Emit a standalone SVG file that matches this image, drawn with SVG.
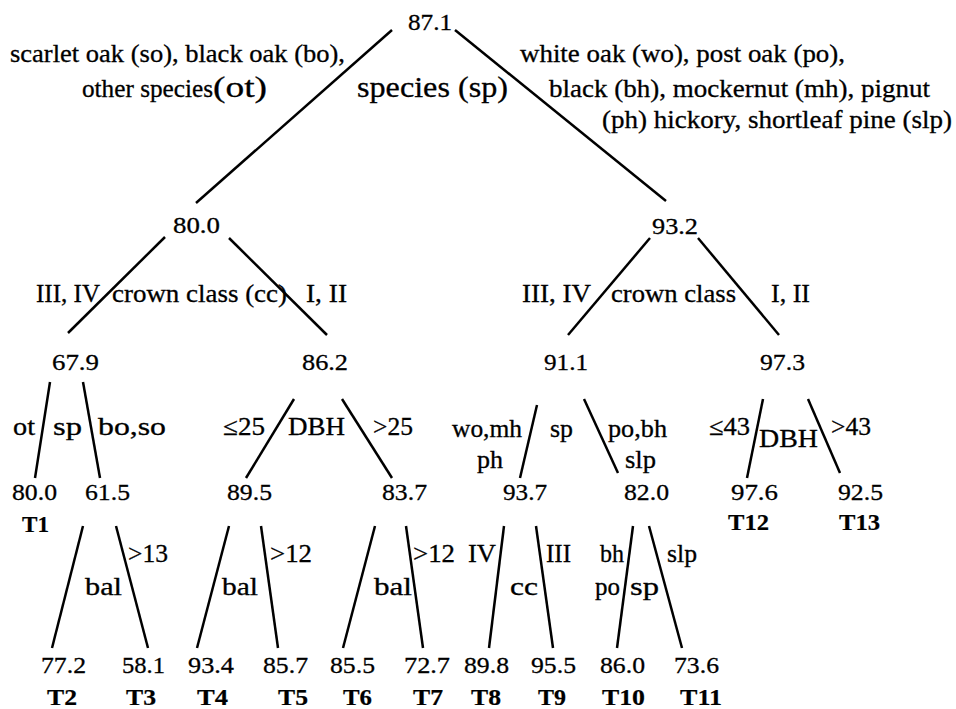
<svg xmlns="http://www.w3.org/2000/svg" width="956" height="709" viewBox="0 0 956 709" font-family="'Liberation Serif', 'Times New Roman', Times, serif">
<style>
text{font-family:'Liberation Serif','Times New Roman',Times,serif;fill:#000;stroke:#000;stroke-width:0.3}
.n{font-size:24px}
.t{font-size:23px;font-weight:bold;stroke-width:0.2}
.l{font-size:25px}
.g{font-size:29px}
#connectors line{stroke:#000;stroke-width:2.5;stroke-linecap:butt}
</style>
<rect width="956" height="709" fill="#fff"/>
<g id="connectors">
<line x1="392" y1="30" x2="196" y2="203"/>
<line x1="455" y1="30" x2="666" y2="201"/>
<line x1="165" y1="237" x2="68" y2="333"/>
<line x1="229" y1="238" x2="327" y2="335"/>
<line x1="650" y1="238" x2="568" y2="335"/>
<line x1="698" y1="238" x2="779" y2="335"/>
<line x1="50" y1="382" x2="35" y2="478"/>
<line x1="83" y1="382" x2="100" y2="478"/>
<line x1="294" y1="399" x2="246" y2="478"/>
<line x1="342" y1="399" x2="392" y2="478"/>
<line x1="537" y1="405" x2="520" y2="478"/>
<line x1="584" y1="399" x2="618" y2="473"/>
<line x1="763" y1="399" x2="747" y2="478"/>
<line x1="808" y1="399" x2="840" y2="473"/>
<line x1="83" y1="526" x2="52" y2="648"/>
<line x1="116" y1="526" x2="148" y2="648"/>
<line x1="229" y1="526" x2="197" y2="648"/>
<line x1="261" y1="526" x2="278" y2="648"/>
<line x1="375" y1="526" x2="343" y2="648"/>
<line x1="406" y1="526" x2="423" y2="648"/>
<line x1="504" y1="526" x2="489" y2="648"/>
<line x1="536" y1="526" x2="553" y2="648"/>
<line x1="633" y1="526" x2="617" y2="648"/>
<line x1="649" y1="526" x2="682" y2="648"/>
</g>
<g id="edge-labels" class="l">
<text x="10" y="62" textLength="335" lengthAdjust="spacingAndGlyphs">scarlet oak (so), black oak (bo),</text>
<text x="82" y="97" textLength="131" lengthAdjust="spacingAndGlyphs">other species</text>
<text x="213" y="97" class="g" textLength="54" lengthAdjust="spacingAndGlyphs">(ot)</text>
<text x="357" y="97" class="g" textLength="151" lengthAdjust="spacingAndGlyphs">species (sp)</text>
<text x="520" y="62" textLength="325" lengthAdjust="spacingAndGlyphs">white oak (wo), post oak (po),</text>
<text x="549" y="97" textLength="381" lengthAdjust="spacingAndGlyphs">black (bh), mockernut (mh), pignut</text>
<text x="602" y="128" textLength="350" lengthAdjust="spacingAndGlyphs">(ph) hickory, shortleaf pine (slp)</text>
<text x="36" y="302" textLength="64" lengthAdjust="spacingAndGlyphs">III, IV</text>
<text x="112" y="302" textLength="175" lengthAdjust="spacingAndGlyphs">crown class (cc)</text>
<text x="306" y="302" textLength="41" lengthAdjust="spacingAndGlyphs">I, II</text>
<text x="522" y="302" textLength="69" lengthAdjust="spacingAndGlyphs">III, IV</text>
<text x="611" y="302" textLength="125" lengthAdjust="spacingAndGlyphs">crown class</text>
<text x="771" y="302" textLength="39" lengthAdjust="spacingAndGlyphs">I, II</text>
<text x="13" y="435" textLength="22" lengthAdjust="spacingAndGlyphs">ot</text>
<text x="53" y="435" textLength="29" lengthAdjust="spacingAndGlyphs">sp</text>
<text x="98" y="435" textLength="68" lengthAdjust="spacingAndGlyphs">bo,so</text>
<text x="223" y="435" textLength="42" lengthAdjust="spacingAndGlyphs">≤25</text>
<text x="288" y="435" textLength="57" lengthAdjust="spacingAndGlyphs">DBH</text>
<text x="373" y="435" textLength="40" lengthAdjust="spacingAndGlyphs">&gt;25</text>
<text x="452" y="437" textLength="70" lengthAdjust="spacingAndGlyphs">wo,mh</text>
<text x="477" y="468" textLength="26" lengthAdjust="spacingAndGlyphs">ph</text>
<text x="550" y="437" textLength="23" lengthAdjust="spacingAndGlyphs">sp</text>
<text x="608" y="437" textLength="59" lengthAdjust="spacingAndGlyphs">po,bh</text>
<text x="625" y="468" textLength="31" lengthAdjust="spacingAndGlyphs">slp</text>
<text x="709" y="435" textLength="41" lengthAdjust="spacingAndGlyphs">≤43</text>
<text x="759" y="447" textLength="59" lengthAdjust="spacingAndGlyphs">DBH</text>
<text x="831" y="435" textLength="40" lengthAdjust="spacingAndGlyphs">&gt;43</text>
<text x="128" y="562" textLength="40" lengthAdjust="spacingAndGlyphs">&gt;13</text>
<text x="85" y="595" textLength="37" lengthAdjust="spacingAndGlyphs">bal</text>
<text x="270" y="562" textLength="42" lengthAdjust="spacingAndGlyphs">&gt;12</text>
<text x="222" y="595" textLength="36" lengthAdjust="spacingAndGlyphs">bal</text>
<text x="413" y="562" textLength="42" lengthAdjust="spacingAndGlyphs">&gt;12</text>
<text x="374" y="595" textLength="38" lengthAdjust="spacingAndGlyphs">bal</text>
<text x="468" y="562" textLength="28" lengthAdjust="spacingAndGlyphs">IV</text>
<text x="510" y="595" textLength="28" lengthAdjust="spacingAndGlyphs">cc</text>
<text x="546" y="562" textLength="25" lengthAdjust="spacingAndGlyphs">III</text>
<text x="600" y="562" textLength="24" lengthAdjust="spacingAndGlyphs">bh</text>
<text x="595" y="595" textLength="25" lengthAdjust="spacingAndGlyphs">po</text>
<text x="630" y="595" textLength="29" lengthAdjust="spacingAndGlyphs">sp</text>
<text x="667" y="562" textLength="30" lengthAdjust="spacingAndGlyphs">slp</text>
</g>
<g id="node-root"><text class="n" x="408" y="30" textLength="44" lengthAdjust="spacingAndGlyphs">87.1</text></g>
<g id="node-80-0"><text class="n" x="173" y="233" textLength="47" lengthAdjust="spacingAndGlyphs">80.0</text></g>
<g id="node-93-2"><text class="n" x="652" y="234" textLength="46" lengthAdjust="spacingAndGlyphs">93.2</text></g>
<g id="node-67-9"><text class="n" x="52" y="370" textLength="47" lengthAdjust="spacingAndGlyphs">67.9</text></g>
<g id="node-86-2"><text class="n" x="302" y="370" textLength="46" lengthAdjust="spacingAndGlyphs">86.2</text></g>
<g id="node-91-1"><text class="n" x="544" y="370" textLength="44" lengthAdjust="spacingAndGlyphs">91.1</text></g>
<g id="node-97-3"><text class="n" x="760" y="370" textLength="45" lengthAdjust="spacingAndGlyphs">97.3</text></g>
<g id="node-T1"><text class="n" x="12" y="500" textLength="45" lengthAdjust="spacingAndGlyphs">80.0</text><text class="t" x="22" y="532" textLength="27" lengthAdjust="spacingAndGlyphs">T1</text></g>
<g id="node-61-5"><text class="n" x="85" y="500" textLength="45" lengthAdjust="spacingAndGlyphs">61.5</text></g>
<g id="node-89-5"><text class="n" x="227" y="500" textLength="45" lengthAdjust="spacingAndGlyphs">89.5</text></g>
<g id="node-83-7"><text class="n" x="382" y="500" textLength="45" lengthAdjust="spacingAndGlyphs">83.7</text></g>
<g id="node-93-7"><text class="n" x="503" y="500" textLength="44" lengthAdjust="spacingAndGlyphs">93.7</text></g>
<g id="node-82-0"><text class="n" x="624" y="500" textLength="45" lengthAdjust="spacingAndGlyphs">82.0</text></g>
<g id="node-T12"><text class="n" x="731" y="500" textLength="47" lengthAdjust="spacingAndGlyphs">97.6</text><text class="t" x="728" y="530" textLength="41" lengthAdjust="spacingAndGlyphs">T12</text></g>
<g id="node-T13"><text class="n" x="838" y="500" textLength="45" lengthAdjust="spacingAndGlyphs">92.5</text><text class="t" x="839" y="530" textLength="41" lengthAdjust="spacingAndGlyphs">T13</text></g>
<g id="node-T2"><text class="n" x="41" y="673" textLength="45" lengthAdjust="spacingAndGlyphs">77.2</text><text class="t" x="47" y="705" textLength="30" lengthAdjust="spacingAndGlyphs">T2</text></g>
<g id="node-T3"><text class="n" x="122" y="673" textLength="43" lengthAdjust="spacingAndGlyphs">58.1</text><text class="t" x="126" y="705" textLength="30" lengthAdjust="spacingAndGlyphs">T3</text></g>
<g id="node-T4"><text class="n" x="188" y="673" textLength="46" lengthAdjust="spacingAndGlyphs">93.4</text><text class="t" x="197" y="705" textLength="31" lengthAdjust="spacingAndGlyphs">T4</text></g>
<g id="node-T5"><text class="n" x="263" y="673" textLength="45" lengthAdjust="spacingAndGlyphs">85.7</text><text class="t" x="278" y="705" textLength="30" lengthAdjust="spacingAndGlyphs">T5</text></g>
<g id="node-T6"><text class="n" x="330" y="673" textLength="45" lengthAdjust="spacingAndGlyphs">85.5</text><text class="t" x="343" y="705" textLength="29" lengthAdjust="spacingAndGlyphs">T6</text></g>
<g id="node-T7"><text class="n" x="404" y="673" textLength="46" lengthAdjust="spacingAndGlyphs">72.7</text><text class="t" x="413" y="705" textLength="30" lengthAdjust="spacingAndGlyphs">T7</text></g>
<g id="node-T8"><text class="n" x="464" y="673" textLength="45" lengthAdjust="spacingAndGlyphs">89.8</text><text class="t" x="471" y="705" textLength="30" lengthAdjust="spacingAndGlyphs">T8</text></g>
<g id="node-T9"><text class="n" x="531" y="673" textLength="45" lengthAdjust="spacingAndGlyphs">95.5</text><text class="t" x="538" y="705" textLength="28" lengthAdjust="spacingAndGlyphs">T9</text></g>
<g id="node-T10"><text class="n" x="600" y="673" textLength="45" lengthAdjust="spacingAndGlyphs">86.0</text><text class="t" x="602" y="705" textLength="43" lengthAdjust="spacingAndGlyphs">T10</text></g>
<g id="node-T11"><text class="n" x="674" y="673" textLength="45" lengthAdjust="spacingAndGlyphs">73.6</text><text class="t" x="680" y="705" textLength="42" lengthAdjust="spacingAndGlyphs">T11</text></g>
</svg>
